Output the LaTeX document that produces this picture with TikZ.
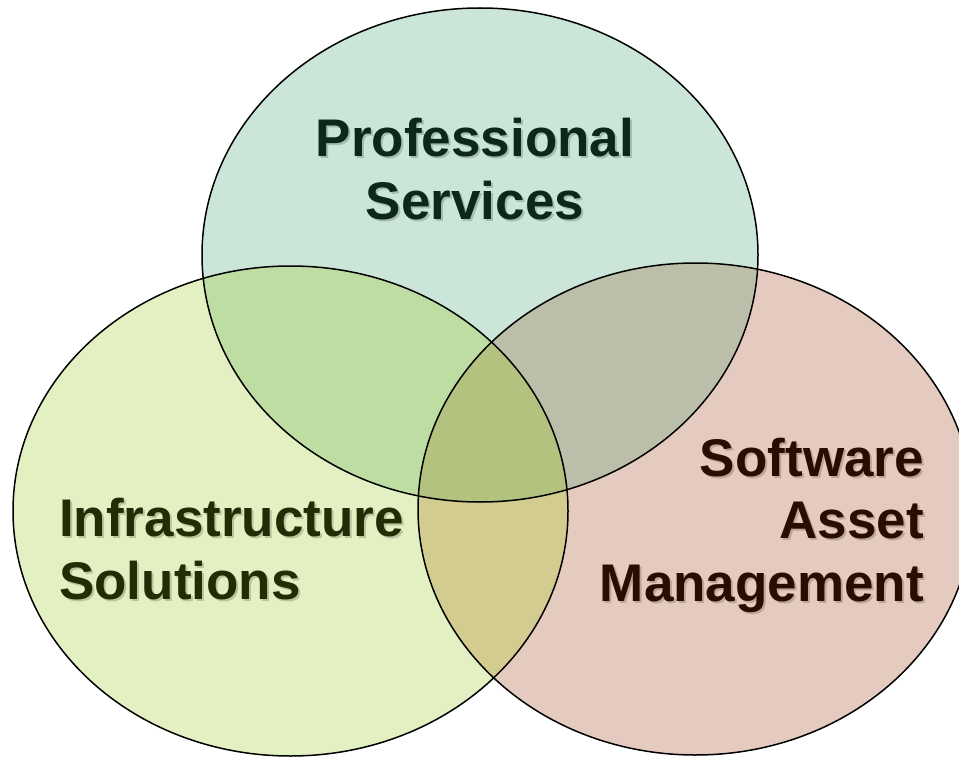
\documentclass[tikz,border=0pt]{standalone}
\usepackage{fontspec}
\setmainfont{Liberation Sans}
\definecolor{psfill}{RGB}{203,229,217}
\definecolor{isfill}{RGB}{227,240,194}
\definecolor{samfill}{RGB}{229,202,191}
\definecolor{psisfill}{RGB}{190,221,163}
\definecolor{pssamfill}{RGB}{187,191,170}
\definecolor{issamfill}{RGB}{211,204,144}
\definecolor{allfill}{RGB}{179,194,127}
\definecolor{pstext}{RGB}{12,40,25}
\definecolor{istext}{RGB}{35,45,5}
\definecolor{samtext}{RGB}{42,12,0}
\tikzset{
  psshape/.style={x radius=278pt, y radius=247pt},
  isshape/.style={x radius=277.5pt, y radius=245pt},
  samshape/.style={x radius=277.5pt, y radius=246pt},
  ring/.style={draw=black, line width=1.5pt},
  venntext/.style={inner sep=0pt, font=\bfseries\fontsize{53}{62.5}\selectfont},
  vennshadow/.style={venntext, text=black, text opacity=0.18, xshift=2pt, yshift=-2pt}
}
\begin{document}
\begin{tikzpicture}[x=1pt,y=-1pt]
\useasboundingbox (0,0) rectangle (959,757);
\clip (0,0) rectangle (959,757);
\coordinate (ps) at (480,255);
\coordinate (is) at (290.5,511);
\coordinate (sam) at (695.5,509);
% the three sets
\fill[psfill,psshape] (ps) ellipse [];
\fill[isfill,isshape] (is) ellipse [];
\fill[samfill,samshape] (sam) ellipse [];
% overlaps of two
\begin{scope}
\clip[psshape] (ps) ellipse [];
\fill[psisfill,isshape] (is) ellipse [];
\fill[pssamfill,samshape] (sam) ellipse [];
\end{scope}
\begin{scope}
\clip[isshape] (is) ellipse [];
\fill[issamfill,samshape] (sam) ellipse [];
\end{scope}
% middle
\begin{scope}
\clip[psshape] (ps) ellipse [];
\clip[isshape] (is) ellipse [];
\fill[allfill,samshape] (sam) ellipse [];
\end{scope}
\draw[ring,psshape] (ps) ellipse [];
\draw[ring,isshape] (is) ellipse [];
\draw[ring,samshape] (sam) ellipse [];
% labels (base = last line)
\coordinate (pslabel) at (475,219);
\coordinate (islabel) at (59,599);
\coordinate (samlabel) at (924,601);
\node[vennshadow, anchor=base, align=center] at (pslabel) {Professional\\Services};
\node[venntext, text=pstext, anchor=base, align=center] (psname) at (pslabel) {Professional\\Services};
\node[vennshadow, anchor=base west, align=left] at (islabel) {Infrastructure\\Solutions};
\node[venntext, text=istext, anchor=base west, align=left] (isname) at (islabel) {Infrastructure\\Solutions};
\node[vennshadow, anchor=base east, align=right] at (samlabel) {Software\\Asset\\Management};
\node[venntext, text=samtext, anchor=base east, align=right] (samname) at (samlabel) {Software\\Asset\\Management};
\end{tikzpicture}
\end{document}
